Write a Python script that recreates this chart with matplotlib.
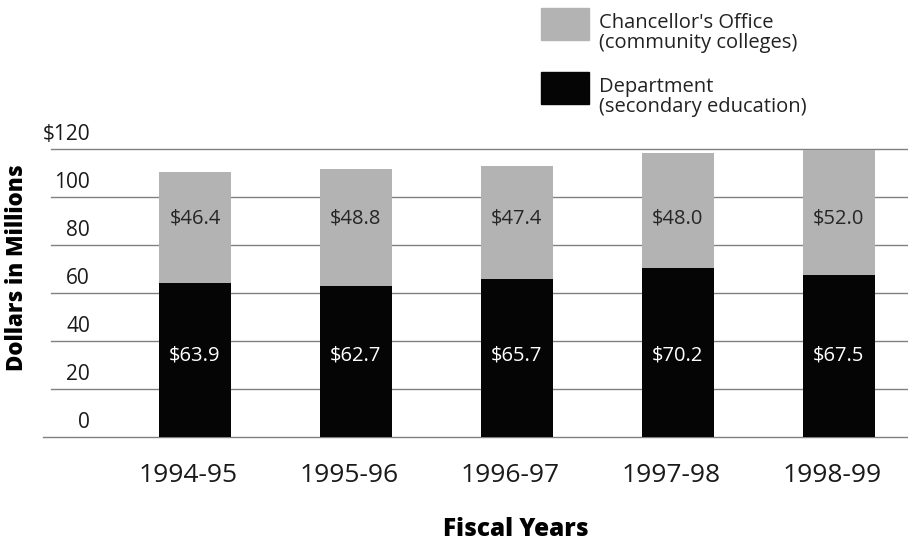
import matplotlib
matplotlib.use("Agg")
import matplotlib.pyplot as plt
from matplotlib.patches import Rectangle
from matplotlib.transforms import blended_transform_factory, ScaledTranslation

plt.rcParams['font.family'] = ['Open Sans', 'DejaVu Sans']

categories = ["1994-95", "1995-96", "1996-97", "1997-98", "1998-99"]
department = [63.9, 62.7, 65.7, 70.2, 67.5]
chancellor = [46.4, 48.8, 47.4, 48.0, 52.0]
y_ticks = [0, 20, 40, 60, 80, 100, 120]
y_tick_labels = ["0", "20", "40", "60", "80", "100", "$120"]
legend_labels = ["Chancellor's Office\n(community colleges)",
                 "Department\n(secondary education)"]

GRAY = "#b3b3b3"
BLACK = "#050505"
GRID = "#808080"

W, H = 908, 546
fig = plt.figure(figsize=(W / 100, H / 100), dpi=100)
ax = fig.add_axes([43 / W, 1 - 436.7 / H, 865 / W, (436.7 - 149) / H])

x = list(range(len(categories)))
ax.set_xlim(-0.944, 4.43)
ax.set_ylim(0, 120)

# gridlines
for t in y_ticks:
    xmin = 0 if t == 0 else 8 / 865
    ax.axhline(t, xmin=xmin, xmax=1, color=GRID, lw=1.0, zorder=1,
               clip_on=False)

bw = 0.447
ax.bar(x, department, width=bw, color=BLACK, zorder=2)
ax.bar(x, chancellor, width=bw, bottom=department, color=GRAY, zorder=2)

for xi, d, c in zip(x, department, chancellor):
    ax.text(xi, 34, f"${d:.1f}", ha='center', va='center', color='white',
            fontsize=14.5, zorder=3)
    ax.text(xi, 91, f"${c:.1f}", ha='center', va='center', color='#262626',
            fontsize=14.5, zorder=3)

for s in ax.spines.values():
    s.set_visible(False)
ax.set_yticks([])
ax.set_xticks(x)
ax.set_xticklabels(categories, fontsize=19, color='#1a1a1a')
ax.tick_params(axis='x', length=0, pad=19)
shift = ScaledTranslation(-7 / 100, 0, fig.dpi_scale_trans)
for lbl in ax.get_xticklabels():
    lbl.set_transform(lbl.get_transform() + shift)

# y tick labels
tr = blended_transform_factory(fig.transFigure, ax.transData) + \
    ScaledTranslation(0, 4 / 100, fig.dpi_scale_trans)
for t, lab in zip(y_ticks, y_tick_labels):
    ax.text(90 / W, t, lab, transform=tr, ha='right', va='bottom',
            fontsize=15, color='#1a1a1a')

# axis titles
fig.text(17.5 / W, 1 - 268 / H, "Dollars in Millions", rotation=90,
         ha='center', va='center', fontsize=16, fontweight='heavy')
fig.text(516 / W, 1 - 529 / H, "Fiscal Years", ha='center', va='center',
         fontsize=17.5, fontweight='black')

# legend
legend_colors = [GRAY, BLACK]
legend_tops = [8, 72]
for col, top, lab in zip(legend_colors, legend_tops, legend_labels):
    fig.patches.append(Rectangle((541 / W, 1 - (top + 32) / H), 48 / W, 32 / H,
                                 transform=fig.transFigure, color=col))
    fig.text(599 / W, 1 - (top + 25) / H, lab, ha='left', va='center',
             fontsize=14.5, color='#222222', linespacing=1.0)

fig.savefig("out.png", dpi=100)
